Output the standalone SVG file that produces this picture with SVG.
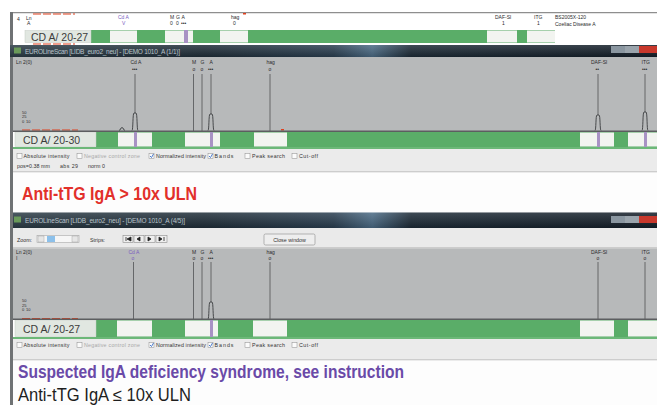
<svg xmlns="http://www.w3.org/2000/svg" width="657" height="405" viewBox="0 0 657 405">
<defs>
<linearGradient id="tb" x1="0" y1="0" x2="1" y2="0">
<stop offset="0" stop-color="#2c3c46"/>
<stop offset="0.3" stop-color="#1f2d38"/>
<stop offset="0.5" stop-color="#2a3e50"/>
<stop offset="0.56" stop-color="#4a6a84"/>
<stop offset="0.62" stop-color="#1c2a36"/>
<stop offset="1" stop-color="#141e28"/>
</linearGradient>
<linearGradient id="tbv" x1="0" y1="0" x2="0" y2="1">
<stop offset="0" stop-color="#ffffff" stop-opacity="0.15"/>
<stop offset="1" stop-color="#000000" stop-opacity="0.15"/>
</linearGradient>
<style>
.g{fill:#5aad68}
.w{fill:#f2f4f0}
.p{fill:#a892c4}
.lb{fill:#e1e7e1;stroke:#c4ccc4;stroke-width:0.5}
.lbt{font-family:"Liberation Sans",Arial,sans-serif;font-size:10.5px;fill:#3c3c3c}
.chart{fill:#b7b9ba}
.ln{stroke:#505254;stroke-width:0.8;fill:none}
.pk{stroke:#3a3c3e;stroke-width:0.9;fill:none}
.t{font-family:"Liberation Sans",Arial,sans-serif;font-size:5px;fill:#2a2a2a}
.tp{font-family:"Liberation Sans",Arial,sans-serif;font-size:5px;fill:#7a5cc0}
.ax{font-family:"Liberation Sans",Arial,sans-serif;font-size:4px;fill:#2a2a2a}
.cb{font-family:"Liberation Sans",Arial,sans-serif;font-size:5.3px;fill:#333}
.cbl{font-family:"Liberation Sans",Arial,sans-serif;font-size:5.3px;fill:#a8a8a8}
.box{fill:#fbfbfb;stroke:#8a8a8a;stroke-width:0.5}
.chk{fill:none;stroke:#3a6fc8;stroke-width:0.9}
.title{font-family:"Liberation Sans",Arial,sans-serif;font-size:6.5px;fill:#b9c2ca}
.panel{fill:#ebebeb}
.sep{stroke:#a0a0a0;stroke-width:0.8}
.frame{fill:#6f7274}
.big{font-family:"Liberation Sans",Arial,sans-serif;font-size:17.5px}
.red{fill:#e2302a;font-weight:bold}
.pur{fill:#6a4aa8;font-weight:bold}
.blk{fill:#1e1e1e}
.dash{stroke:#e0401e;stroke-width:1.2;stroke-dasharray:8 2}
.btn{fill:#eeeeee;stroke:#8c8c8c;stroke-width:0.6}
</style>
<g id="cbrow">
<rect class="box" x="17" y="-4.5" width="5" height="5"/><text class="cb" x="23.5" y="0" textLength="46">Absolute intensity</text>
<rect class="box" x="77" y="-4.5" width="5" height="5"/><text class="cbl" x="84" y="0" textLength="56">Negative control zone</text>
<rect class="box" x="149" y="-4.5" width="5" height="5"/><path class="chk" d="M150 -2 L151.5 -0.5 L153.5 -4"/><text class="cb" x="156" y="0" textLength="50">Normalized intensity</text>
<rect class="box" x="208" y="-4.5" width="5" height="5"/><path class="chk" d="M209 -2 L210.5 -0.5 L212.5 -4"/><text class="cb" x="214.5" y="0" textLength="19">Bands</text>
<rect class="box" x="245" y="-4.5" width="5" height="5"/><text class="cb" x="252" y="0" textLength="33">Peak search</text>
<rect class="box" x="292" y="-4.5" width="5" height="5"/><text class="cb" x="299" y="0" textLength="19">Cut-off</text>
</g>
</defs>

<rect x="0" y="0" width="657" height="405" fill="#ffffff"/>

<!-- top strip -->
<g id="top-strip">
<rect x="10" y="12" width="647" height="1.5" fill="#8e8e8e"/>
<rect x="13" y="13.5" width="644" height="16.5" fill="#ffffff"/>
<line x1="33" y1="14" x2="75" y2="14" class="dash"/>
<rect x="243" y="13" width="3" height="1.5" fill="#e0401e"/>
<rect class="frame" x="10" y="12" width="3" height="33"/>
<text class="t" x="17" y="21" font-size="6">4</text>
<text class="t" x="26" y="19.5">Ln</text><text class="t" x="27" y="25">A</text>
<text class="tp" x="118" y="19">Cd A</text><text class="tp" x="122" y="25">V</text>
<text class="t" x="170" y="18.5">M</text><text class="t" x="176" y="18.5">G</text><text class="t" x="181.5" y="18.5">A</text>
<text class="t" x="170" y="25">0</text><text class="t" x="176" y="25">0</text><text class="t" x="181" y="25">•••</text>
<text class="t" x="231" y="19">hag</text><text class="t" x="233" y="25">0</text>
<text class="t" x="495" y="19">DAF-Sl</text><text class="t" x="502" y="25">1</text>
<text class="t" x="534" y="19">ITG</text><text class="t" x="537" y="25">1</text>
<text class="t" x="555" y="19" font-size="5.5">BS2005X-120</text>
<text class="t" x="555" y="26" font-size="5.5">Coeliac Disease A</text>
<rect class="g" x="91" y="30" width="464" height="13"/>
<rect class="w" x="110" y="30.5" width="27" height="12"/>
<rect class="w" x="165" y="30.5" width="28" height="12"/>
<rect class="p" x="184" y="30" width="4" height="13"/>
<rect class="w" x="220" y="30.5" width="28" height="12"/>
<rect class="w" x="487" y="30.5" width="30" height="12"/>
<rect class="w" x="527" y="30.5" width="28" height="12"/>
<rect class="lb" x="25" y="30.5" width="66" height="12"/>
<text class="lbt" x="31" y="40.5">CD A/ 20-27</text>
<line x1="33" y1="44" x2="75" y2="44" class="dash"/>
</g>

<!-- window 1 -->
<g id="window1">
<rect x="10" y="45" width="647" height="12" fill="url(#tb)"/>
<rect x="10" y="45" width="647" height="12" fill="url(#tbv)"/>
<rect x="14" y="47.5" width="7" height="6" fill="#6a9a5a"/>
<text class="title" x="25" y="53.5" textLength="155">EUROLineScan [LIDB_euro2_neu] - [DEMO 1010_A (1/1)]</text>
<rect x="611" y="46" width="14" height="7" fill="#8a96a0"/>
<rect x="625" y="46" width="14" height="7" fill="#9aa4ac"/>
<rect x="639" y="46" width="18" height="7" fill="#c8382c"/>
<rect class="frame" x="10" y="57" width="3" height="348"/>
<rect class="chart" x="13" y="57" width="644" height="74"/>
<text class="t" x="16" y="64">Ln 2(0)</text>
<text class="t" x="130.5" y="64">Cd A</text><text class="t" x="132" y="71">•••</text>
<text class="t" x="192" y="64">M</text><text class="t" x="200.5" y="64">G</text><text class="t" x="209.5" y="64">A</text>
<text class="t" x="192.5" y="71">o</text><text class="t" x="200.5" y="71">o</text><text class="t" x="208" y="71">•••</text>
<text class="t" x="266.5" y="64">hag</text><text class="t" x="268.5" y="71">o</text>
<text class="t" x="591" y="64">DAF-Sl</text><text class="t" x="595.5" y="71">••</text>
<text class="t" x="641.5" y="64">ITG</text><text class="t" x="642" y="71">•••</text>
<path class="ln" d="M135 74 V113 M193.5 74 V131 M202 74 V131 M211 74 V114 M270 74 V131 M598 74 V115 M645 74 V112"/>
<path class="pk" d="M132 130.5 C133.2 130.5 132.6 113 134 113 L136 113 C137.4 113 136.8 130.5 138 130.5"/>
<path class="pk" d="M208 130.5 C209.2 130.5 208.6 114 210 114 L212 114 C213.4 114 212.8 130.5 214 130.5"/>
<path class="pk" d="M595 130.5 C596.2 130.5 595.6 115 597 115 L599 115 C600.4 115 599.8 130.5 601 130.5"/>
<path class="pk" d="M642 130.5 C643.2 130.5 642.6 112 644 112 L646 112 C647.4 112 646.8 130.5 648 130.5"/>
<path class="pk" d="M119 130.5 C120.5 130.5 120.5 127.5 122 127.5 C123.5 127.5 123.5 130.5 125 130.5"/>
<text class="ax" x="22" y="113.5">50</text><text class="ax" x="22" y="118">25</text><text class="ax" x="22" y="123">0</text><text class="ax" x="26" y="123">10</text>
<line x1="22" y1="130" x2="78" y2="130" class="dash"/>
<rect x="281" y="129" width="3" height="1.5" fill="#e0401e"/>
<rect x="13" y="130.5" width="644" height="1.5" fill="#5c5e60"/>
<rect class="g" x="96" y="132" width="561" height="15"/>
<rect class="w" x="118" y="132.5" width="34" height="14"/>
<rect class="w" x="185" y="132.5" width="35" height="14"/>
<rect class="w" x="254" y="132.5" width="33" height="14"/>
<rect class="w" x="580" y="132.5" width="34" height="14"/>
<rect class="w" x="628" y="132.5" width="29" height="14"/>
<rect class="p" x="134" y="132" width="3" height="15"/>
<rect class="p" x="210" y="132" width="3" height="15"/>
<rect class="p" x="597" y="132" width="3" height="15"/>
<rect class="p" x="644" y="132" width="3" height="15"/>
<rect class="lb" x="15" y="132.5" width="81" height="14"/>
<text class="lbt" x="23" y="143.5">CD A/ 20-30</text>
<rect x="13" y="147" width="644" height="2" fill="#6cb878"/>
<rect class="panel" x="13" y="149" width="644" height="23"/>
<use href="#cbrow" x="0" y="158"/>
<text class="cb" x="17" y="167.5" textLength="33">pos=0.38 mm</text>
<text class="cb" x="60" y="167.5" textLength="18">abs 29</text>
<text class="cb" x="88" y="167.5" textLength="17">norm 0</text>
<line class="sep" x1="13" y1="172" x2="657" y2="172"/>
<rect x="13" y="172.5" width="644" height="40" fill="#fdfdfd"/>
<text class="big red" x="22" y="200" textLength="175" lengthAdjust="spacingAndGlyphs">Anti-tTG IgA &gt; 10x ULN</text>
</g>

<!-- window 2 -->
<g id="window2">
<rect x="10" y="212.5" width="647" height="15.5" fill="url(#tb)"/>
<rect x="10" y="212.5" width="647" height="15.5" fill="url(#tbv)"/>
<rect class="frame" x="10" y="212" width="3" height="193"/>
<rect x="14" y="216.5" width="7" height="6" fill="#6a9a5a"/>
<text class="title" x="25" y="223" textLength="160">EUROLineScan [LIDB_euro2_neu] - [DEMO 1010_A (4/5)]</text>
<rect x="611" y="216" width="14" height="7" fill="#8a96a0"/>
<rect x="625" y="216" width="14" height="7" fill="#9aa4ac"/>
<rect x="639" y="216" width="18" height="7" fill="#c8382c"/>
<rect x="13" y="228" width="644" height="20" fill="#eaeaea"/>
<line class="sep" x1="13" y1="248" x2="657" y2="248"/>
<text class="cb" x="17" y="241.5" font-size="6">Zoom:</text>
<rect x="37" y="235.5" width="42" height="7" fill="#f6f6f6" stroke="#9a9a9a" stroke-width="0.5"/>
<rect x="38" y="236" width="6" height="6" fill="#e6e6e6" stroke="#9a9a9a" stroke-width="0.4"/>
<rect x="47" y="236" width="8" height="6" fill="#8cc0ea"/>
<rect x="72" y="236" width="6" height="6" fill="#e6e6e6" stroke="#9a9a9a" stroke-width="0.4"/>
<text class="cb" x="90" y="241.5" font-size="6">Strips:</text>
<rect class="btn" x="123" y="235.5" width="10" height="7"/>
<rect class="btn" x="134" y="235.5" width="10" height="7"/>
<rect class="btn" x="145" y="235.5" width="10" height="7"/>
<rect class="btn" x="156" y="235.5" width="11" height="7"/>
<path d="M126 237 V241 M131 237 L127 239 L131 241 Z M140 237 L137 239 L140 241 Z M148 237 L151 239 L148 241 Z M159 237 L162 239 L159 241 Z M164 237 V241" stroke="#222" stroke-width="0.8" fill="#222"/>
<rect class="btn" x="264" y="234" width="51" height="11" rx="1.5"/>
<text class="cb" x="289.5" y="241.5" font-size="5.8" text-anchor="middle">Close window</text>
<rect class="chart" x="13" y="248.5" width="644" height="71"/>
<text class="t" x="16" y="253.5">Ln 2(0)</text><text class="t" x="16" y="260">I</text>
<text class="tp" x="128.5" y="253.5">Cd A</text><text class="tp" x="131.5" y="260">o</text>
<text class="t" x="192" y="253.5">M</text><text class="t" x="200.5" y="253.5">G</text><text class="t" x="209.5" y="253.5">A</text>
<text class="t" x="192.5" y="260">o</text><text class="t" x="200.5" y="260">o</text><text class="t" x="208" y="260">•••</text>
<text class="t" x="266.5" y="253.5">hag</text><text class="t" x="268.5" y="260">o</text>
<text class="t" x="591" y="253.5">DAF-Sl</text><text class="t" x="596.5" y="260">o</text>
<text class="t" x="641.5" y="253.5">ITG</text><text class="t" x="643.5" y="260">o</text>
<path class="ln" d="M133.5 262 V319 M193.5 262 V319 M202 262 V319 M211 262 V302 M270 262 V319 M598 262 V319 M645 262 V319"/>
<path class="pk" d="M208 319 C209.2 319 208.6 302 210 302 L212 302 C213.4 302 212.8 319 214 319"/>
<text class="ax" x="22" y="302">50</text><text class="ax" x="22" y="306.5">25</text><text class="ax" x="22" y="311">0</text><text class="ax" x="26" y="311">10</text>
<line x1="22" y1="318.5" x2="78" y2="318.5" class="dash"/>
<rect x="13" y="318.5" width="644" height="1.5" fill="#5c5e60"/>
<rect class="g" x="96" y="320" width="561" height="17"/>
<rect class="w" x="117" y="320.5" width="35" height="16"/>
<rect class="w" x="185" y="320.5" width="33" height="16"/>
<rect class="w" x="253" y="320.5" width="34" height="16"/>
<rect class="w" x="580" y="320.5" width="34" height="16"/>
<rect class="w" x="628" y="320.5" width="29" height="16"/>
<rect class="p" x="210" y="320" width="3" height="17"/>
<rect class="lb" x="15" y="320.5" width="81" height="16"/>
<text class="lbt" x="23" y="332.5">CD A/ 20-27</text>
<rect x="13" y="337" width="644" height="2" fill="#6cb878"/>
<rect class="panel" x="13" y="339" width="644" height="21"/>
<use href="#cbrow" x="0" y="347"/>
<line class="sep" x1="13" y1="360" x2="657" y2="360"/>
<rect x="13" y="360.5" width="644" height="44.5" fill="#fdfdfd"/>
<text class="big pur" x="18" y="378" textLength="386" lengthAdjust="spacingAndGlyphs">Suspected IgA deficiency syndrome, see instruction</text>
<text class="big blk" x="18" y="400.5" textLength="173" lengthAdjust="spacingAndGlyphs">Anti-tTG IgA ≤ 10x ULN</text>
</g>
</svg>
